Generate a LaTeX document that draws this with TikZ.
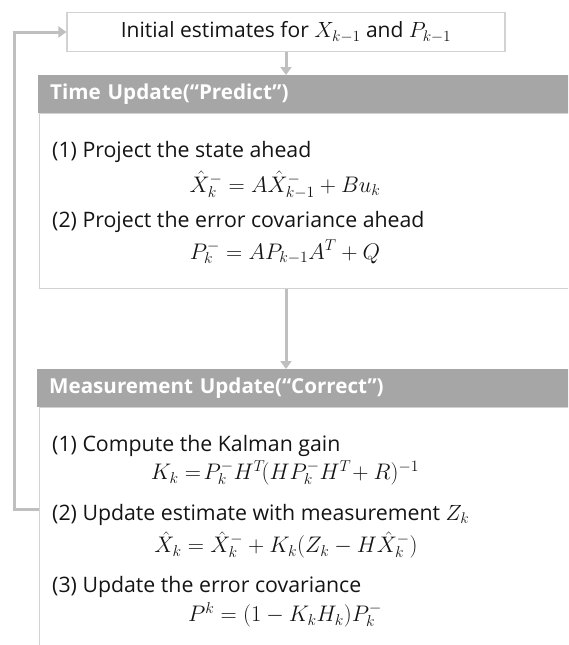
\RequirePackage{fix-cm}
\documentclass[tikz,border=0pt]{standalone}
\usepackage{fontspec}
\setmainfont{Open Sans}
\usetikzlibrary{arrows.meta,positioning}
\definecolor{kfHead}{RGB}{166,166,166}
\definecolor{kfBorder}{RGB}{210,210,210}
\definecolor{kfLine}{RGB}{191,191,191}
\definecolor{kfText}{RGB}{20,20,20}
\newcommand{\kfmath}[1]{{\fontsize{22}{26}\selectfont$#1$}}
\tikzset{
  initbox/.style={
    rectangle, draw=kfBorder, line width=1.2pt, fill=white,
    minimum width=438pt, minimum height=39pt,
    inner sep=0pt, text=kfText, font=\fontsize{21}{24}\selectfont
  },
  headbox/.style={
    rectangle, fill=kfHead, text=white,
    minimum width=580pt, minimum height=38pt,
    text width=556pt, inner xsep=12pt, align=left,
    font=\fontsize{20.6}{24}\selectfont\bfseries
  },
  bodybox/.style={
    rectangle, draw=kfBorder, line width=1.2pt,
    minimum width=580pt, minimum height=#1,
    inner sep=0pt
  },
  stepline/.style={anchor=west, inner sep=0pt, text=kfText, font=\fontsize{21.3}{24}\selectfont},
  eqline/.style={anchor=center, inner sep=0pt, text=kfText, font=\fontsize{22.5}{26}\selectfont},
  myarr/.style={-{Triangle[length=8pt,width=11pt]}, line width=3pt, draw=kfLine},
}
\begin{document}
\begin{tikzpicture}[x=1pt,y=-1pt]
  \clip (0,0) rectangle (568,645);

  % Initial estimates
  \node[initbox] (init) at (286,32) {Initial estimates for \kfmath{X_{k-1}} and \kfmath{P_{k-1}}};

  % Time update
  \node[headbox, anchor=north west] (timehead) at (38,75) {Time Update(“Predict”)};
  \node[bodybox=175pt, anchor=north west] (timebody) at (39,113) {};
  \node[stepline] (t1) at (52,152) {(1) Project the state ahead};
  \node[eqline]   (t1eq) at (285,185) {$\hat{X}_k^- = A\hat{X}_{k-1}^- + Bu_k$};
  \node[stepline] (t2) at (52,222) {(2) Project the error covariance ahead};
  \node[eqline]   (t2eq) at (285,252) {$P_k^- = AP_{k-1}A^T + Q$};

  % Measurement update
  \node[headbox, anchor=north west] (meashead) at (37,369) {Measurement Update(“Correct”)};
  \node[bodybox=260pt, anchor=north west] (measbody) at (39,407) {};
  \node[stepline] (m1) at (52,446) {(1) Compute the Kalman gain};
  \node[eqline]   (m1eq) at (285,473) {$K_k =\! P_k^- H^T\!(HP_k^- H^T\! + R)^{-1}$};
  \node[stepline] (m2) at (52,515) {(2) Update estimate with measurement \kfmath{Z_k}};
  \node[eqline]   (m2eq) at (286,545) {$\hat{X}_k = \hat{X}_k^- + K_k(Z_k - H\hat{X}_k^-)$};
  \node[stepline] (m3) at (52,587) {(3) Update the error covariance};
  \node[eqline]   (m3eq) at (285,615) {$P^k = (1 - K_kH_k)P_k^-$};

  % Arrows
  \coordinate (fb) at (measbody.west |- 0,509);
  \draw[myarr] (init.south) -- (init.south |- timehead.north);
  \draw[myarr] (init.south |- timebody.south) -- (init.south |- meashead.north);
  \draw[myarr] (fb) -- ++(-25,0) |- (init.west);
\end{tikzpicture}
\end{document}
